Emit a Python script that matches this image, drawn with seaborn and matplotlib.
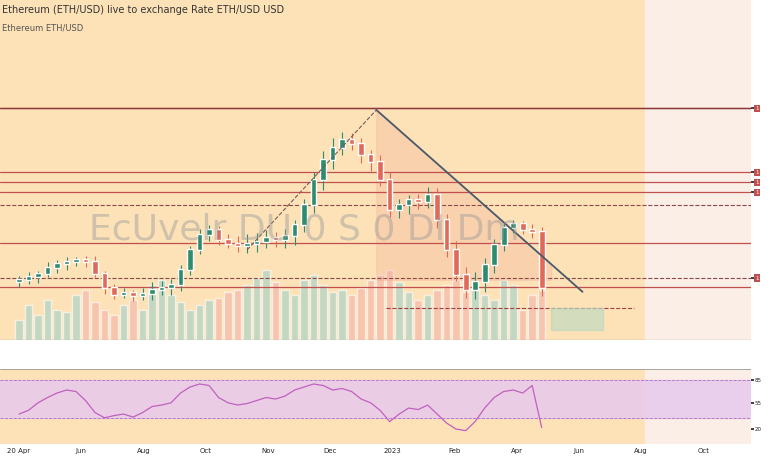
import matplotlib
matplotlib.use("Agg")
import matplotlib.pyplot as plt
import seaborn as sns
import pandas as pd
import numpy as np

sns.set_theme(style="white")
plt.rcParams['font.family'] = ['DejaVu Sans']

closes = [60,63,66,72,76,78,80,78,66,52,45,47,44,46,50,52,55,70,90,105,110,100,96,94,96,98,102,100,104,115,
          135,160,180,192,200,196,185,178,160,130,135,140,138,145,120,90,65,50,58,75,95,112,116,110,108,52]
opens = [58] + closes[:-1]
wick_hi = [4,5,3,6,4,5,3,4,6,3,4,5,3,6,8,7,6,5,4,6,5,4,6,8,10,9,8,6,7,5,6,8,9,10,8,7,6,5,7,8,6,5,6,8,7,6,9,8,10,7,6,5,4,3,6,5]
wick_lo = [5,4,6,3,5,6,4,5,3,6,4,3,5,4,6,5,7,6,5,4,6,5,4,6,7,8,6,7,8,9,7,8,10,9,7,6,8,9,6,7,8,9,7,6,8,7,6,8,9,10,8,6,5,4,6,8]
volumes = [20,35,25,40,30,28,45,50,38,30,25,35,40,30,55,60,45,38,30,35,40,42,48,50,55,62,70,58,50,45,
           60,65,55,48,50,45,52,60,65,70,58,48,40,45,50,55,60,48,52,45,40,60,55,30,45,50]
rsi = [40,45,55,62,68,72,70,58,42,35,38,40,36,42,50,52,55,68,76,80,78,62,55,52,54,58,62,60,64,72,
       76,80,78,72,74,70,60,55,45,30,40,48,46,52,40,28,20,18,30,48,62,70,72,68,78,22]
levels_solid = [232, 168, 158, 148, 97, 53]
levels_dashed = [135, 62]

n = len(closes)
df = pd.DataFrame({"i": np.arange(n), "open": opens, "close": closes,
                   "hi": np.maximum(opens, closes) + np.array(wick_hi),
                   "lo": np.minimum(opens, closes) - np.array(wick_lo),
                   "vol": volumes, "rsi": rsi})

fig = plt.figure(figsize=(7.7, 4.7), dpi=100)
fig.patch.set_facecolor("white")
W = 0.975
ax = fig.add_axes([0, 0.277, W, 0.723])
ax2 = fig.add_axes([0, 0.055, W, 0.16])
X0, X1 = -2, 77
split = X0 + (645 / (770 * W)) * (X1 - X0)
for a in (ax, ax2):
    a.set_xlim(X0, X1)
    a.axvspan(X0, split, color="#fde2b8", zorder=0)
    a.axvspan(split, X1, color="#fbeee6", zorder=0)
ax.set_ylim(0, 340)

vcols = ["#9fd1c8" if c >= o else "#f4b2a8" for o, c in zip(opens, closes)]
ax.bar(df["i"], df["vol"], width=0.8, color=vcols, alpha=0.6, zorder=1)
ccol = ["#2e8b6e" if c >= o else "#e06a5a" for o, c in zip(opens, closes)]
ax.vlines(df["i"], df["lo"], df["hi"], color=ccol, lw=0.8, zorder=3)
ax.bar(df["i"], np.abs(df["close"] - df["open"]) + 1, bottom=np.minimum(df["open"], df["close"]),
       width=0.6, color=ccol, zorder=4)

for y in levels_solid:
    ax.axhline(y, color="#c0504d", lw=0.9, zorder=2)
ax.axhline(232, color="#8b3a3a", lw=1)
for y in levels_dashed:
    ax.axhline(y, color="#8b4a4a", lw=0.8, ls="--", zorder=2)
ax.plot([38.6, 64.7], [32, 32], color="#a04040", lw=0.8, ls="--")
ax.plot([37.6, 59.3], [230, 48], color="#4a5a6a", lw=1.3, zorder=5)
ax.plot([24, 37.6], [90, 230], color="#7a5a5a", lw=0.8, ls="--", zorder=5)
ax.fill_between([37.6, 47, 56], [230, 151, 76], [60, 60, 60], color="#f4a090", alpha=0.25, zorder=1)
ax.add_patch(plt.Rectangle((56, 10), 5.5, 22, color="#b8d8c0", alpha=0.6, zorder=2))

ax.text(30, 110, "EcUvelr DU 0 S 0 DI Dm", fontsize=26, color="#999999", alpha=0.45,
        ha="center", va="center", zorder=6)
ax.text(0.003, 0.985, "Ethereum (ETH/USD) live to exchange Rate ETH/USD USD",
        transform=ax.transAxes, fontsize=7, va="top", color="#333333")
ax.text(0.003, 0.93, "Ethereum ETH/USD", transform=ax.transAxes, fontsize=6, va="top", color="#555555")

ax.set_xticks([])
ax.yaxis.tick_right()
ax.set_yticks([232, 168, 158, 148, 62])
ax.set_yticklabels(["1", "1", "1", "1", "1"], fontsize=4,
                   bbox=dict(facecolor="#c0504d", edgecolor="none", pad=1), color="white")
ax.tick_params(axis="y", length=2, pad=1)
for s in ax.spines.values():
    s.set_visible(False)
ax.axhline(0, color="#333333", lw=0.8)

ax2.set_ylim(0, 100)
ax2.axhspan(35, 85, color="#e6c8f0", alpha=0.8, zorder=1)
ax2.axhline(85, color="#b070c0", lw=0.6, ls="--")
ax2.axhline(35, color="#b070c0", lw=0.6, ls="--")
sns.lineplot(data=df, x="i", y="rsi", ax=ax2, color="#c060c0", lw=0.9, zorder=3)
ax2.set_xlabel(""); ax2.set_ylabel("")
ax2.yaxis.tick_right()
ax2.set_yticks([20, 55, 85])
ax2.set_yticklabels(["20", "55", "85"])
ax2.tick_params(labelsize=4, length=2, pad=1)
ax2.set_xticks(np.linspace(0, 72, 12))
ax2.set_xticklabels(["20 Apr", "Jun", "Aug", "Oct", "Nov", "Dec", "2023", "Feb", "Apr", "Jun", "Aug", "Oct"], fontsize=5)
for s in ax2.spines.values():
    s.set_visible(False)
ax2.axhline(100, color="#888888", lw=0.5)

fig.savefig("out.png", dpi=100)
